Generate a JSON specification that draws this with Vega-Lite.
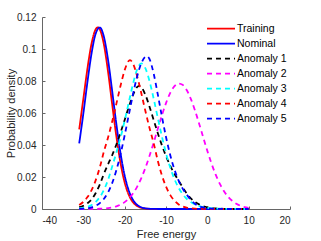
{
"$schema": "https://vega.github.io/schema/vega-lite/v6.json",
"width": 248, "height": 192,
"autosize": {"type": "none"},
"padding": {"left": 42, "top": 17, "right": 31, "bottom": 32},
"background": "white",
"config": {"view": {"stroke": null}, "font": "Liberation Sans", "legend": {"rowPadding": 2, "clipHeight": 12.1}},
"data": {"values": [
{"s":"Training","x":-31,"y":0.0497},{"s":"Training","x":-30,"y":0.0688},{"s":"Training","x":-29,"y":0.0879},{"s":"Training","x":-28,"y":0.1035},{"s":"Training","x":-27,"y":0.1124},{"s":"Training","x":-26.5,"y":0.1135},{"s":"Training","x":-26,"y":0.1122},{"s":"Training","x":-25,"y":0.1025},{"s":"Training","x":-24,"y":0.0854},{"s":"Training","x":-23,"y":0.065},{"s":"Training","x":-22,"y":0.0452},{"s":"Training","x":-21,"y":0.0287},{"s":"Training","x":-20,"y":0.0166},{"s":"Training","x":-19,"y":0.0088},{"s":"Training","x":-18,"y":0.00425},{"s":"Training","x":-17,"y":0.00188},{"s":"Training","x":-16,"y":0.00076},{"s":"Training","x":-15,"y":0.00028},{"s":"Training","x":-14,"y":0.00009},{"s":"Training","x":-13,"y":0.00003},{"s":"Training","x":-12,"y":0.00001},{"s":"Training","x":-11,"y":0},{"s":"Training","x":-8,"y":0},{"s":"Training","x":-5,"y":0},{"s":"Training","x":-2,"y":0},{"s":"Training","x":1,"y":0},{"s":"Training","x":4,"y":0},{"s":"Training","x":7,"y":0},{"s":"Training","x":10,"y":0},
{"s":"Nominal","x":-31,"y":0.041},{"s":"Nominal","x":-30,"y":0.0596},{"s":"Nominal","x":-29,"y":0.0795},{"s":"Nominal","x":-28,"y":0.0974},{"s":"Nominal","x":-27,"y":0.1097},{"s":"Nominal","x":-26,"y":0.1134},{"s":"Nominal","x":-25,"y":0.1074},{"s":"Nominal","x":-24,"y":0.0929},{"s":"Nominal","x":-23,"y":0.0733},{"s":"Nominal","x":-22,"y":0.0529},{"s":"Nominal","x":-21,"y":0.0348},{"s":"Nominal","x":-20,"y":0.0209},{"s":"Nominal","x":-19,"y":0.0115},{"s":"Nominal","x":-18,"y":0.00575},{"s":"Nominal","x":-17,"y":0.00263},{"s":"Nominal","x":-16,"y":0.0011},{"s":"Nominal","x":-15,"y":0.00042},{"s":"Nominal","x":-14,"y":0.00015},{"s":"Nominal","x":-13,"y":0.00005},{"s":"Nominal","x":-12,"y":0.00001},{"s":"Nominal","x":-11,"y":0},{"s":"Nominal","x":-8,"y":0},{"s":"Nominal","x":-5,"y":0},{"s":"Nominal","x":-2,"y":0},{"s":"Nominal","x":1,"y":0},{"s":"Nominal","x":4,"y":0},{"s":"Nominal","x":7,"y":0},{"s":"Nominal","x":10,"y":0},
{"s":"Anomaly 1","x":-31,"y":0.00115},{"s":"Anomaly 1","x":-30,"y":0.00201},{"s":"Anomaly 1","x":-29,"y":0.0036},{"s":"Anomaly 1","x":-28,"y":0.00605},{"s":"Anomaly 1","x":-27,"y":0.01},{"s":"Anomaly 1","x":-26,"y":0.01537},{"s":"Anomaly 1","x":-25,"y":0.02216},{"s":"Anomaly 1","x":-24,"y":0.02807},{"s":"Anomaly 1","x":-23,"y":0.03376},{"s":"Anomaly 1","x":-22,"y":0.04032},{"s":"Anomaly 1","x":-21,"y":0.04768},{"s":"Anomaly 1","x":-20,"y":0.05566},{"s":"Anomaly 1","x":-19,"y":0.06381},{"s":"Anomaly 1","x":-18,"y":0.0712},{"s":"Anomaly 1","x":-17,"y":0.07621},{"s":"Anomaly 1","x":-16.5,"y":0.077},{"s":"Anomaly 1","x":-16,"y":0.07626},{"s":"Anomaly 1","x":-15,"y":0.07144},{"s":"Anomaly 1","x":-14,"y":0.06407},{"s":"Anomaly 1","x":-13,"y":0.05578},{"s":"Anomaly 1","x":-12,"y":0.04755},{"s":"Anomaly 1","x":-11,"y":0.0399},{"s":"Anomaly 1","x":-10,"y":0.03308},{"s":"Anomaly 1","x":-9,"y":0.02717},{"s":"Anomaly 1","x":-8,"y":0.02216},{"s":"Anomaly 1","x":-7,"y":0.01796},{"s":"Anomaly 1","x":-6,"y":0.01375},{"s":"Anomaly 1","x":-5,"y":0.00975},{"s":"Anomaly 1","x":-4,"y":0.0067},{"s":"Anomaly 1","x":-3,"y":0.00446},{"s":"Anomaly 1","x":-2,"y":0.00288},{"s":"Anomaly 1","x":-1,"y":0.0018},{"s":"Anomaly 1","x":0,"y":0.00109},{"s":"Anomaly 1","x":1,"y":0.00064},{"s":"Anomaly 1","x":2,"y":0.00037},{"s":"Anomaly 1","x":3,"y":0.0002},{"s":"Anomaly 1","x":4,"y":0.00011},{"s":"Anomaly 1","x":5,"y":0.00006},{"s":"Anomaly 1","x":6,"y":0.00003},{"s":"Anomaly 1","x":7,"y":0.00001},{"s":"Anomaly 1","x":10,"y":0},
{"s":"Anomaly 2","x":-31,"y":0},{"s":"Anomaly 2","x":-30,"y":0.00001},{"s":"Anomaly 2","x":-29,"y":0.00002},{"s":"Anomaly 2","x":-28,"y":0.00004},{"s":"Anomaly 2","x":-27,"y":0.00009},{"s":"Anomaly 2","x":-26,"y":0.00017},{"s":"Anomaly 2","x":-25,"y":0.00031},{"s":"Anomaly 2","x":-24,"y":0.00057},{"s":"Anomaly 2","x":-23,"y":0.00099},{"s":"Anomaly 2","x":-22,"y":0.00167},{"s":"Anomaly 2","x":-21,"y":0.00272},{"s":"Anomaly 2","x":-20,"y":0.0043},{"s":"Anomaly 2","x":-19,"y":0.00657},{"s":"Anomaly 2","x":-18,"y":0.0097},{"s":"Anomaly 2","x":-17,"y":0.01386},{"s":"Anomaly 2","x":-16,"y":0.01915},{"s":"Anomaly 2","x":-15,"y":0.0256},{"s":"Anomaly 2","x":-14,"y":0.03309},{"s":"Anomaly 2","x":-13,"y":0.04136},{"s":"Anomaly 2","x":-12,"y":0.05002},{"s":"Anomaly 2","x":-11,"y":0.0585},{"s":"Anomaly 2","x":-10,"y":0.06618},{"s":"Anomaly 2","x":-9,"y":0.07242},{"s":"Anomaly 2","x":-8,"y":0.07664},{"s":"Anomaly 2","x":-7,"y":0.07845},{"s":"Anomaly 2","x":-6,"y":0.07767},{"s":"Anomaly 2","x":-5,"y":0.07437},{"s":"Anomaly 2","x":-4,"y":0.06888},{"s":"Anomaly 2","x":-3,"y":0.06171},{"s":"Anomaly 2","x":-2,"y":0.05347},{"s":"Anomaly 2","x":-1,"y":0.04481},{"s":"Anomaly 2","x":0,"y":0.03632},{"s":"Anomaly 2","x":1,"y":0.02848},{"s":"Anomaly 2","x":2,"y":0.02159},{"s":"Anomaly 2","x":3,"y":0.01584},{"s":"Anomaly 2","x":4,"y":0.01124},{"s":"Anomaly 2","x":5,"y":0.00771},{"s":"Anomaly 2","x":6,"y":0.00512},{"s":"Anomaly 2","x":7,"y":0.00328},{"s":"Anomaly 2","x":8,"y":0.00204},{"s":"Anomaly 2","x":9,"y":0.00122},{"s":"Anomaly 2","x":10,"y":0.00071},
{"s":"Anomaly 3","x":-31,"y":0.00033},{"s":"Anomaly 3","x":-30,"y":0.00068},{"s":"Anomaly 3","x":-29,"y":0.00133},{"s":"Anomaly 3","x":-28,"y":0.00249},{"s":"Anomaly 3","x":-27,"y":0.00442},{"s":"Anomaly 3","x":-26,"y":0.00747},{"s":"Anomaly 3","x":-25,"y":0.01201},{"s":"Anomaly 3","x":-24,"y":0.01837},{"s":"Anomaly 3","x":-23,"y":0.02673},{"s":"Anomaly 3","x":-22,"y":0.03529},{"s":"Anomaly 3","x":-21,"y":0.04455},{"s":"Anomaly 3","x":-20,"y":0.05519},{"s":"Anomaly 3","x":-19,"y":0.06672},{"s":"Anomaly 3","x":-18,"y":0.07802},{"s":"Anomaly 3","x":-17,"y":0.08713},{"s":"Anomaly 3","x":-16,"y":0.091},{"s":"Anomaly 3","x":-15,"y":0.08798},{"s":"Anomaly 3","x":-14,"y":0.08005},{"s":"Anomaly 3","x":-13,"y":0.06916},{"s":"Anomaly 3","x":-12,"y":0.05715},{"s":"Anomaly 3","x":-11,"y":0.04544},{"s":"Anomaly 3","x":-10,"y":0.03493},{"s":"Anomaly 3","x":-9,"y":0.02607},{"s":"Anomaly 3","x":-8,"y":0.01896},{"s":"Anomaly 3","x":-7,"y":0.01347},{"s":"Anomaly 3","x":-6,"y":0.00937},{"s":"Anomaly 3","x":-5,"y":0.00641},{"s":"Anomaly 3","x":-4,"y":0.00431},{"s":"Anomaly 3","x":-3,"y":0.00285},{"s":"Anomaly 3","x":-2,"y":0.00186},{"s":"Anomaly 3","x":-1,"y":0.0012},{"s":"Anomaly 3","x":0,"y":0.00077},{"s":"Anomaly 3","x":1,"y":0.00048},{"s":"Anomaly 3","x":2,"y":0.0003},{"s":"Anomaly 3","x":3,"y":0.00019},{"s":"Anomaly 3","x":4,"y":0.00012},{"s":"Anomaly 3","x":5,"y":0.00007},{"s":"Anomaly 3","x":6,"y":0.00004},{"s":"Anomaly 3","x":7,"y":0.00002},{"s":"Anomaly 3","x":8,"y":0.00001},{"s":"Anomaly 3","x":10,"y":0},
{"s":"Anomaly 4","x":-31,"y":0.00254},{"s":"Anomaly 4","x":-30,"y":0.00445},{"s":"Anomaly 4","x":-29,"y":0.00744},{"s":"Anomaly 4","x":-28,"y":0.01186},{"s":"Anomaly 4","x":-27,"y":0.01804},{"s":"Anomaly 4","x":-26,"y":0.02615},{"s":"Anomaly 4","x":-25,"y":0.03615},{"s":"Anomaly 4","x":-24,"y":0.04488},{"s":"Anomaly 4","x":-23,"y":0.05488},{"s":"Anomaly 4","x":-22,"y":0.06585},{"s":"Anomaly 4","x":-21,"y":0.07702},{"s":"Anomaly 4","x":-20,"y":0.08681},{"s":"Anomaly 4","x":-19,"y":0.0926},{"s":"Anomaly 4","x":-18.7,"y":0.093},{"s":"Anomaly 4","x":-18,"y":0.09099},{"s":"Anomaly 4","x":-17,"y":0.0832},{"s":"Anomaly 4","x":-16,"y":0.07261},{"s":"Anomaly 4","x":-15,"y":0.06138},{"s":"Anomaly 4","x":-14,"y":0.05073},{"s":"Anomaly 4","x":-13,"y":0.04124},{"s":"Anomaly 4","x":-12,"y":0.03028},{"s":"Anomaly 4","x":-11,"y":0.02112},{"s":"Anomaly 4","x":-10,"y":0.01402},{"s":"Anomaly 4","x":-9,"y":0.00885},{"s":"Anomaly 4","x":-8,"y":0.00531},{"s":"Anomaly 4","x":-7,"y":0.00303},{"s":"Anomaly 4","x":-6,"y":0.00165},{"s":"Anomaly 4","x":-5,"y":0.00085},{"s":"Anomaly 4","x":-4,"y":0.00042},{"s":"Anomaly 4","x":-3,"y":0.0002},{"s":"Anomaly 4","x":-2,"y":0.00009},{"s":"Anomaly 4","x":-1,"y":0.00004},{"s":"Anomaly 4","x":0,"y":0.00002},{"s":"Anomaly 4","x":1,"y":0},{"s":"Anomaly 4","x":4,"y":0},{"s":"Anomaly 4","x":7,"y":0},{"s":"Anomaly 4","x":10,"y":0},
{"s":"Anomaly 5","x":-31,"y":0.00011},{"s":"Anomaly 5","x":-30,"y":0.00025},{"s":"Anomaly 5","x":-29,"y":0.00053},{"s":"Anomaly 5","x":-28,"y":0.00107},{"s":"Anomaly 5","x":-27,"y":0.00204},{"s":"Anomaly 5","x":-26,"y":0.00371},{"s":"Anomaly 5","x":-25,"y":0.00639},{"s":"Anomaly 5","x":-24,"y":0.01049},{"s":"Anomaly 5","x":-23,"y":0.01636},{"s":"Anomaly 5","x":-22,"y":0.02429},{"s":"Anomaly 5","x":-21,"y":0.0343},{"s":"Anomaly 5","x":-20,"y":0.04607},{"s":"Anomaly 5","x":-19,"y":0.05886},{"s":"Anomaly 5","x":-18,"y":0.07153},{"s":"Anomaly 5","x":-17,"y":0.08269},{"s":"Anomaly 5","x":-16,"y":0.09093},{"s":"Anomaly 5","x":-15,"y":0.09512},{"s":"Anomaly 5","x":-14.6,"y":0.0955},{"s":"Anomaly 5","x":-14,"y":0.09374},{"s":"Anomaly 5","x":-13,"y":0.08479},{"s":"Anomaly 5","x":-12,"y":0.07182},{"s":"Anomaly 5","x":-11,"y":0.05792},{"s":"Anomaly 5","x":-10,"y":0.045},{"s":"Anomaly 5","x":-9,"y":0.03395},{"s":"Anomaly 5","x":-8,"y":0.02502},{"s":"Anomaly 5","x":-7,"y":0.01809},{"s":"Anomaly 5","x":-6,"y":0.01288},{"s":"Anomaly 5","x":-5,"y":0.00905},{"s":"Anomaly 5","x":-4,"y":0.00576},{"s":"Anomaly 5","x":-3,"y":0.0033},{"s":"Anomaly 5","x":-2,"y":0.0018},{"s":"Anomaly 5","x":-1,"y":0.00094},{"s":"Anomaly 5","x":0,"y":0.00046},{"s":"Anomaly 5","x":1,"y":0.00022},{"s":"Anomaly 5","x":2,"y":0.0001},{"s":"Anomaly 5","x":3,"y":0.00004},{"s":"Anomaly 5","x":4,"y":0.00002},{"s":"Anomaly 5","x":5,"y":0},{"s":"Anomaly 5","x":7,"y":0},{"s":"Anomaly 5","x":10,"y":0}
]},
"mark": {"type": "line", "strokeWidth": 1.8, "interpolate": "monotone"},
"encoding": {
  "x": {"field": "x", "type": "quantitative", "title": "Free energy",
    "scale": {"domain": [-40, 20], "nice": false, "zero": false},
    "axis": {"values": [-40, -30, -20, -10, 0, 10, 20], "labelExpr": "'' + datum.value", "grid": false,
      "domainColor": "#666666", "tickColor": "#666666", "tickSize": -3, "labelPadding": 9,
      "labelFontSize": 10, "labelColor": "#262626", "labelFont": "Liberation Sans",
      "titleFontSize": 11, "titleFontWeight": "normal", "titleColor": "#262626", "titleFont": "Liberation Sans",
      "titleBaseline": "alphabetic", "titleY": 28.5}},
  "y": {"field": "y", "type": "quantitative", "title": "Probability density",
    "scale": {"domain": [0, 0.12], "nice": false},
    "axis": {"values": [0, 0.02, 0.04, 0.06, 0.08, 0.1, 0.12], "labelExpr": "'' + datum.value", "grid": false,
      "domainColor": "#666666", "tickColor": "#666666", "tickSize": -3, "labelPadding": 9,
      "labelFontSize": 10, "labelColor": "#262626", "labelFont": "Liberation Sans",
      "titleFontSize": 11, "titleFontWeight": "normal", "titleColor": "#262626", "titleFont": "Liberation Sans",
      "titleBaseline": "alphabetic", "titleX": -28}},
  "color": {"field": "s", "type": "nominal",
    "scale": {"domain": ["Training", "Nominal", "Anomaly 1", "Anomaly 2", "Anomaly 3", "Anomaly 4", "Anomaly 5"],
      "range": ["#ff0000", "#0000ff", "#000000", "#ff00ff", "#00ffff", "#ff0000", "#0000ff"]},
    "legend": {"title": null, "orient": "none", "legendX": 164, "legendY": 5.5, "symbolType": "stroke", "symbolSize": 784,
      "symbolStrokeWidth": 1.8, "labelFontSize": 10.5, "labelColor": "#000000", "labelFont": "Liberation Sans",
      "labelOffset": 1, "rowPadding": 2, "clipHeight": 12.1, "padding": 0}},
  "strokeDash": {"field": "s", "type": "nominal",
    "scale": {"domain": ["Training", "Nominal", "Anomaly 1", "Anomaly 2", "Anomaly 3", "Anomaly 4", "Anomaly 5"],
      "range": [[1, 0], [1, 0], [5, 4], [5, 4], [5, 4], [5, 4], [5, 4]]},
    "legend": {"title": null, "orient": "none", "legendX": 164, "legendY": 5.5, "symbolType": "stroke", "symbolSize": 784,
      "symbolStrokeWidth": 1.8, "labelFontSize": 10.5, "labelColor": "#000000", "labelFont": "Liberation Sans",
      "labelOffset": 1, "rowPadding": 2, "clipHeight": 12.1, "padding": 0}}
}
}
